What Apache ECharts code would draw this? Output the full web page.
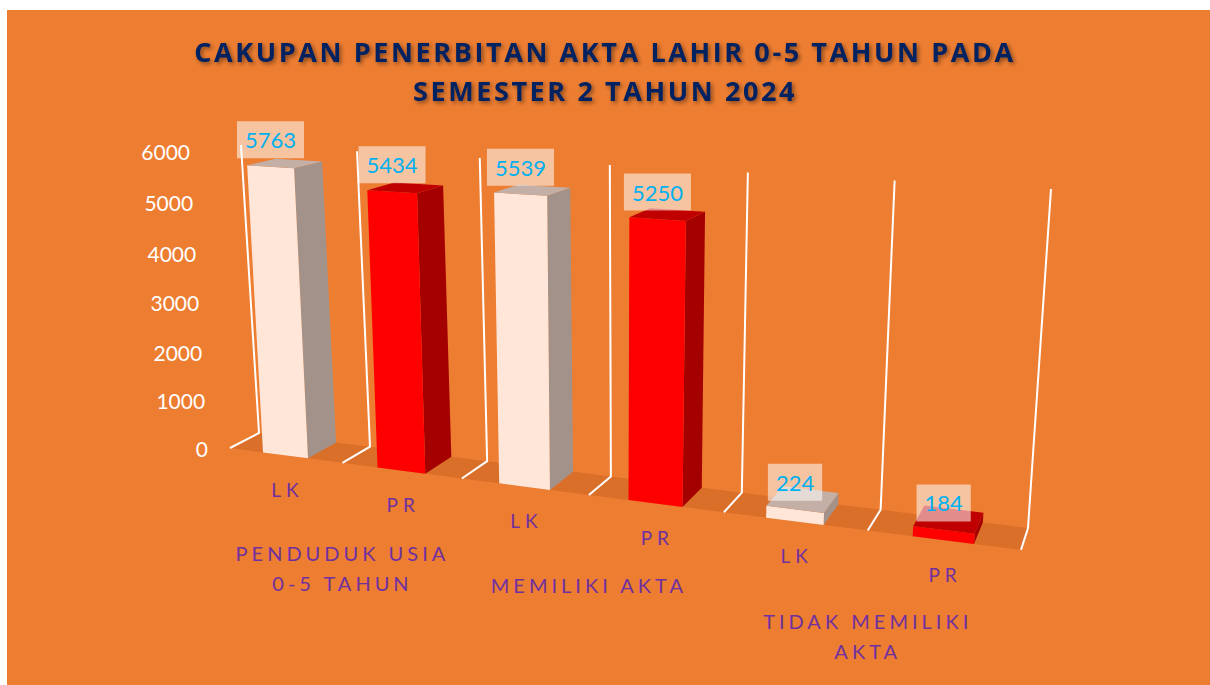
<!DOCTYPE html>
<html>
<head>
<meta charset="utf-8">
<script src="https://cdn.jsdelivr.net/npm/echarts@6/dist/echarts.min.js"></script>
<style>
  html, body { margin: 0; padding: 0; background: #fff; }
  #chart { width: 1210px; height: 685px; }
</style>
</head>
<body>
<div id="chart"></div>
<script>
let titleText = 'CAKUPAN PENERBITAN AKTA LAHIR 0-5 TAHUN PADA\nSEMESTER 2 TAHUN 2024';
let categories = ['LK', 'PR', 'LK', 'PR', 'LK', 'PR'];
let values = [5763, 5434, 5539, 5250, 224, 184];
let groups = ['PENDUDUK USIA\n0-5 TAHUN', 'MEMILIKI AKTA', 'TIDAK MEMILIKI\nAKTA'];
let yTicks = [0, 1000, 2000, 3000, 4000, 5000, 6000];

let COLORS = {
  LK: { front: '#FFE6D9', side: '#A39289', top: '#C3AFA5' },
  PR: { front: '#FF0000', side: '#A40000', top: '#C00000' }
};
let FLOOR = '#DA6F2A';
let LABEL_BLUE = '#00B0F0';
let PURPLE = '#7030A0';
let FONT = 'Lato';

// back wall on screen: bottom-left, bottom-right, top-right, top-left
let WALL = [[259, 433], [1028, 528], [1051, 189], [241, 145]];

function makeHomography(q) {
  let [x0, y0] = q[0], [x1, y1] = q[1], [x2, y2] = q[2], [x3, y3] = q[3];
  let dx1 = x1 - x2, dx2 = x3 - x2, dx3 = x0 - x1 + x2 - x3;
  let dy1 = y1 - y2, dy2 = y3 - y2, dy3 = y0 - y1 + y2 - y3;
  let den = dx1 * dy2 - dx2 * dy1;
  let g = (dx3 * dy2 - dx2 * dy3) / den;
  let h = (dx1 * dy3 - dx3 * dy1) / den;
  let a = x1 - x0 + g * x1, b = x3 - x0 + h * x3, c = x0;
  let d = y1 - y0 + g * y1, e = y3 - y0 + h * y3, f = y0;
  return (s, t) => {
    let w = g * s + h * t + 1;
    return [(a * s + b * t + c) / w, (d * s + e * t + f) / w];
  };
}
let wall = makeHomography(WALL);

// flat grid pixel -> perspective screen point; depth 0 = back wall, 1 = front edge
function project(cs, px, py, depth) {
  let s = (px - cs.x) / cs.width;
  let t = (cs.y + cs.height - py) / cs.height;
  let p = wall(s, t);
  let u = s * categories.length;
  let dx = -29 + u + 0.444 * u * u;
  let dy = (15 + 1.15 * u) * (1 - 0.6 * t);
  return [p[0] + dx * depth, p[1] + dy * depth];
}

function renderScene(params, api) {
  let cs = params.coordSys;
  let n = categories.length;
  let bw = api.size([1, 0])[0];
  let base = api.coord([0, 0])[1];
  let topY = api.coord([0, yTicks[yTicks.length - 1]])[1];
  let edge = k => api.coord([0, 0])[0] - bw / 2 + k * bw;
  let P = (x, y, d) => project(cs, x, y, d);
  let children = [];

  let backPts = [], frontPts = [];
  for (let k = 0; k <= n * 4; k++) {
    let x = edge(k / 4);
    backPts.push(P(x, base, 0));
    frontPts.unshift(P(x, base, 1));
  }
  children.push({ type: 'polygon', shape: { points: backPts.concat(frontPts) }, style: { fill: FLOOR } });

  for (let k = 0; k <= n; k++) {
    let x = edge(k);
    children.push({
      type: 'polyline',
      shape: { points: [P(x, base, 1), P(x, base, 0), P(x, topY, 0)] },
      style: { stroke: '#fff', lineWidth: 2, fill: null }
    });
  }

  yTicks.forEach(v => {
    let p = P(edge(0), api.coord([0, v])[1], 1);
    children.push({
      type: 'text', x: p[0] - 22, y: p[1],
      style: { text: String(v), fill: '#fff', fontFamily: FONT, fontSize: 21, align: 'right', verticalAlign: 'middle' }
    });
  });

  groups.forEach((g, k) => {
    let p = P(edge(2 * k + 1), base, 1);
    children.push({
      type: 'text', x: p[0], y: p[1] + 75,
      style: { text: g, fill: PURPLE, fontFamily: FONT, fontSize: 20, lineHeight: 30, align: 'center', verticalAlign: 'top' }
    });
  });

  return { type: 'group', children: children };
}

function renderBar(params, api) {
  let cs = params.coordSys;
  let i = api.value(0), v = api.value(1);
  let b = api.coord([i, 0]), t = api.coord([i, v]);
  let bw = api.size([1, 0])[0];
  let l = b[0] - bw * 0.2, r = b[0] + bw * 0.2;
  let P = (x, y, d) => project(cs, x, y, d);
  let c = COLORS[categories[i]];
  let fb = P(b[0], b[1], 1), ft = P(b[0], t[1], 1);
  return {
    type: 'group',
    children: [
      { type: 'polygon', shape: { points: [P(r, b[1], 1), P(r, b[1], 0), P(r, t[1], 0), P(r, t[1], 1)] }, style: { fill: c.side } },
      { type: 'polygon', shape: { points: [P(l, b[1], 1), P(r, b[1], 1), P(r, t[1], 1), P(l, t[1], 1)] }, style: { fill: c.front } },
      { type: 'polygon', shape: { points: [P(l, t[1], 1), P(r, t[1], 1), P(r, t[1], 0), P(l, t[1], 0)] }, style: { fill: c.top } },
      {
        type: 'text', x: ft[0], y: ft[1] - 27,
        style: {
          text: String(v), fill: LABEL_BLUE, fontFamily: FONT, fontSize: 22, lineHeight: 25,
          align: 'center', verticalAlign: 'middle',
          backgroundColor: 'rgba(255,255,255,0.55)', padding: [6, 8]
        }
      },
      {
        type: 'text', x: fb[0] + 2, y: fb[1] + 34,
        style: { text: categories[i], fill: PURPLE, fontFamily: FONT, fontSize: 19, align: 'center', verticalAlign: 'middle' }
      }
    ]
  };
}

let chartEl = document.getElementById('chart');
let chart = echarts.init(chartEl, null, { renderer: 'svg' });

chart.setOption({
  animation: false,
  backgroundColor: '#fff',
  graphic: [{ type: 'rect', left: 7, top: 10, z: -10, shape: { width: 1203, height: 675 }, style: { fill: '#ED7D31' } }],
  title: {
    text: titleText,
    left: 'center',
    top: 27,
    textStyle: {
      fontFamily: 'Open Sans', fontSize: 27, fontWeight: 'bold', color: '#002060', lineHeight: 39,
      textShadowColor: 'rgba(0,0,0,0.45)', textShadowBlur: 4, textShadowOffsetX: 2, textShadowOffsetY: 2
    }
  },
  grid: { left: 259, top: 145, width: 769, height: 288 },
  xAxis: { type: 'category', data: categories, show: false },
  yAxis: { type: 'value', min: 0, max: 6000, interval: 1000, show: false },
  series: [
    { type: 'custom', z: 1, data: [[0, 0]], renderItem: renderScene, silent: true },
    { type: 'custom', z: 2, data: values.map((v, i) => [i, v]), renderItem: renderBar, silent: true }
  ]
});

// ECharts text has no letter spacing, so add it on the SVG text nodes
let SPACING = { LK: 5, PR: 5 };
titleText.split('\n').forEach(s => { SPACING[s] = 2.6; });
groups.forEach(g => g.split('\n').forEach(s => { SPACING[s] = 4; }));

function spaceLetters() {
  chartEl.querySelectorAll('text').forEach(el => {
    let s = SPACING[el.textContent];
    if (s) el.style.letterSpacing = s + 'px';
  });
}
spaceLetters();
chart.on('finished', spaceLetters);
</script>
</body>
</html>
